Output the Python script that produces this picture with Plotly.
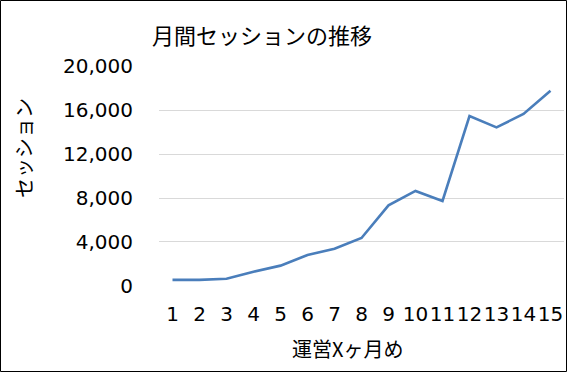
import plotly.graph_objects as go

months = list(range(1, 16))
sessions = [560, 560, 660, 1300, 1850, 2820, 3390, 4360, 7330, 8640, 7730, 15450, 14420, 15640, 17760]
y_ticks = [0, 4000, 8000, 12000, 16000, 20000]
y_tick_text = ["0", "4,000", "8,000", "12,000", "16,000", "20,000"]

W, H = 567, 372
L, R, T, B = 159, 3, 66, 86
pw, ph = W - L - R, H - T - B

def px_x(p):
    return (p - L) / pw

def px_y(p):
    return (H - B - p) / ph

FONT = "DejaVu Sans, Noto Sans CJK JP, sans-serif"
JP = "Noto Sans CJK JP, sans-serif"

fig = go.Figure()
fig.add_trace(go.Scatter(
    x=months, y=sessions, mode="lines",
    line=dict(color="#4a7ebb", width=2.6),
    hoverinfo="skip", showlegend=False,
))

fig.update_layout(
    width=W, height=H,
    margin=dict(l=L, r=R, t=T, b=B, pad=0),
    paper_bgcolor="white", plot_bgcolor="white",
    font=dict(family=FONT, size=20, color="#000000"),
    xaxis=dict(
        range=[0.5, 15.5], tickmode="array", tickvals=months,
        ticktext=[str(m) for m in months], tickangle=0,
        showgrid=False, zeroline=False, showline=False, ticks="",
        tickfont=dict(family=FONT, size=20, color="#000"),
        ticklabelstandoff=14,
    ),
    yaxis=dict(
        range=[-1, 20001], tickmode="array", tickvals=y_ticks, ticktext=y_tick_text,
        showgrid=True, gridcolor="#d9d9d9", gridwidth=1,
        zeroline=False, showline=False, ticks="",
        tickfont=dict(family=FONT, size=20, color="#000"),
        ticklabelstandoff=25,
    ),
    annotations=[
        dict(text="月間セッションの推移", xref="paper", yref="paper",
             x=px_x(262), y=px_y(34), xanchor="center", yanchor="middle",
             showarrow=False, font=dict(family=JP, size=22, color="#000")),
        dict(text="運営Xヶ月め", xref="paper", yref="paper",
             x=px_x(347), y=px_y(348), xanchor="center", yanchor="middle",
             showarrow=False, font=dict(family=JP, size=20, color="#000")),
        dict(text="セッション", xref="paper", yref="paper", textangle=-90,
             x=px_x(23), y=px_y(148), xanchor="center", yanchor="middle",
             showarrow=False, font=dict(family=JP, size=20, color="#000")),
    ],
    shapes=[
        dict(type="rect", xref="paper", yref="paper",
             x0=px_x(0.5), x1=px_x(W - 0.5), y0=px_y(H - 0.5), y1=px_y(0.5),
             line=dict(color="#000", width=1), fillcolor="rgba(0,0,0,0)", layer="above"),
    ],
)

fig.write_html(
    "out.html",
    config={"displayModeBar": False},
    post_script="document.body.style.margin='0';document.body.style.padding='0';",
)
